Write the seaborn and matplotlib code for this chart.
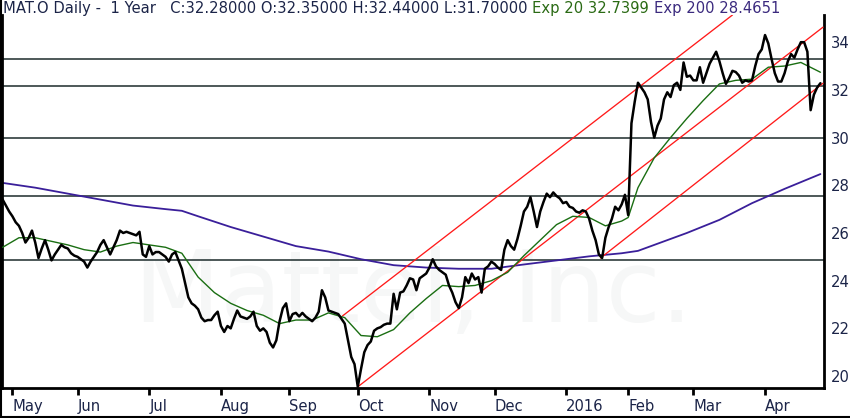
import numpy as np
import pandas as pd
import matplotlib
matplotlib.use("Agg")
import matplotlib.pyplot as plt
from matplotlib.lines import Line2D
import seaborn as sns

# ---------------- data ----------------
holidays = ["2015-05-25", "2015-07-03", "2015-09-07", "2015-11-26", "2015-12-25",
            "2016-01-01", "2016-01-18", "2016-02-15", "2016-03-25"]
start_date = "2015-04-28"
end_date = "2016-04-26"

close = [
    27.4, 27.15, 26.9, 26.7, 26.45, 26.3, 26.0, 25.6, 25.8, 26.1,
    25.6, 24.95, 25.35, 25.7, 25.3, 24.85, 25.1, 25.3, 25.5, 25.4,
    25.35, 25.15, 25.05, 25.0, 24.9, 24.8, 24.55, 24.8, 25.0, 25.2,
    25.5, 25.7, 25.4, 25.1, 25.4, 25.7, 26.1, 26.0, 26.05, 26.0,
    25.95, 25.9, 26.05, 25.1, 25.0, 25.45, 25.1, 25.2, 25.2, 25.1,
    25.0, 24.8, 25.1, 25.2, 24.85, 24.5, 23.9, 23.3, 23.05, 22.95,
    22.8, 22.45, 22.3, 22.35, 22.35, 22.55, 22.7, 22.1, 21.85, 22.1,
    22.0, 22.4, 22.75, 22.5, 22.45, 22.4, 22.5, 22.7, 22.1, 21.9,
    22.0, 21.85, 21.4, 21.2, 21.5, 22.3, 22.85, 23.05, 22.3, 22.6,
    22.65, 22.5, 22.65, 22.5, 22.4, 22.3, 22.45, 22.7, 23.6, 23.3,
    22.75, 22.7, 22.65, 22.6, 22.4, 22.2, 21.5, 20.8, 20.5, 19.55,
    20.3, 21.0, 21.3, 21.45, 21.9, 22.0, 22.05, 22.15, 22.2, 22.2,
    23.45, 22.8, 23.5, 23.55, 23.8, 24.1, 24.05, 23.6, 24.1, 24.2,
    24.3, 24.55, 24.9, 24.6, 24.45, 24.35, 24.25, 23.8, 23.5, 23.1,
    22.85, 23.3, 24.15, 23.9, 24.3, 24.05, 24.15, 23.5, 24.5, 24.6,
    24.8, 24.7, 24.55, 24.45, 25.3, 25.7, 25.45, 25.3, 25.75, 26.3,
    26.9, 27.1, 27.5, 26.9, 26.25, 26.9, 27.3, 27.65, 27.5, 27.7,
    27.55, 27.45, 27.25, 27.3, 27.1, 27.05, 26.9, 26.85, 26.95, 26.9,
    26.6, 26.1, 25.7, 25.1, 24.95, 25.8, 26.25, 26.6, 27.1, 26.95,
    27.2, 27.6, 26.75, 30.6, 31.5, 32.3, 32.1, 31.9, 31.6, 30.65,
    30.0, 30.5, 30.8, 31.6, 31.9, 31.7, 32.2, 32.3, 32.0, 33.15,
    32.55, 32.6, 32.4, 32.4, 32.95, 32.3, 32.7, 33.1, 33.35, 33.6,
    33.2, 32.7, 32.25, 32.5, 32.8, 32.75, 32.6, 32.3, 32.4, 32.35,
    32.4, 33.0, 33.5, 33.7, 34.3, 33.95, 33.3, 32.7, 32.35, 32.35,
    32.7, 33.2, 33.5, 33.35, 33.7, 34.0, 34.0, 33.6, 31.15, 31.8,
    32.1, 32.28,
]

ema20_idx = [0, 5, 10, 15, 20, 25, 30, 35, 40, 45, 50, 55, 60, 65, 70, 75, 80, 85,
             90, 95, 100, 105, 110, 115, 120, 125, 130, 135, 140, 145, 150, 155,
             160, 165, 170, 175, 180, 185, 190, 192, 195, 200, 205, 210, 215, 220,
             225, 230, 235, 240, 245, 251]
ema20_val = [25.4, 25.8, 25.8, 25.65, 25.5, 25.3, 25.2, 25.45, 25.6, 25.5, 25.4, 25.15,
             24.15, 23.5, 23.05, 22.75, 22.55, 22.2, 22.35, 22.35, 22.65, 22.45,
             21.7, 21.65, 21.95, 22.65, 23.25, 23.8, 23.75, 23.8, 24.0, 24.35,
             25.05, 25.7, 26.35, 26.7, 26.65, 26.3, 26.5, 26.65, 27.9, 29.15,
             30.0, 30.8, 31.55, 32.25, 32.4, 32.45, 32.95, 33.0, 33.15, 32.74]

ema200_idx = [0, 10, 20, 30, 40, 50, 55, 60, 70, 80, 90, 100, 110, 120, 130, 140, 150,
              160, 170, 180, 190, 195, 200, 210, 220, 230, 240, 251]
ema200_val = [28.1, 27.9, 27.65, 27.4, 27.15, 27.0, 26.93, 26.7, 26.25, 25.85, 25.45,
              25.22, 24.9, 24.65, 24.55, 24.5, 24.5, 24.68, 24.85, 25.02, 25.15, 25.25,
              25.5, 26.0, 26.55, 27.25, 27.85, 28.47]

h_levels = [33.3, 32.15, 30.0, 27.55, 24.85]

# channel lines: (start index, start value, end index, end value)
chan_upper = (104.3, 22.52, 224.0, 35.14)
chan_mid = (109.0, 19.55, 251.8, 34.63)
chan_low = (183.5, 24.95, 251.8, 32.28)

y_ticks = [20, 22, 24, 26, 28, 30, 32, 34]

title_main = "MAT.O Daily -  1 Year   C:32.28000 O:32.35000 H:32.44000 L:31.70000 "
title_e20 = "Exp 20 32.7399 "
title_e200 = "Exp 200 28.4651"
watermark = "Mattel, Inc."

# ---------------- build ----------------
dates = pd.bdate_range(start_date, end_date, freq="C", holidays=holidays)
n = min(len(dates), len(close))
dates = dates[:n]
idx = np.arange(n)
df = pd.DataFrame({"i": idx, "close": close[:n]})

# first trading day of each month (skip the partial first month)
month_pos, month_lab = [], []
prev = (dates[0].year, dates[0].month)
for k, d in enumerate(dates):
    key = (d.year, d.month)
    if key != prev:
        month_pos.append(k)
        month_lab.append(str(d.year) if d.month == 1 else d.strftime("%b"))
        prev = key

sns.set_theme(style="white")
plt.rcParams["font.family"] = ["DejaVu Sans"]

NAVY = "#1b2448"
FS = 10.6
fig = plt.figure(figsize=(8.5, 4.18), dpi=100)
fig.patch.set_facecolor("white")
ax = fig.add_axes([2 / 850, 30 / 418, 822 / 850, 373 / 418])
ax.set_facecolor("white")

ax.text(0.5, 0.25, watermark, transform=ax.transAxes, ha="center", va="center",
        fontsize=72, color="#f6f7f7", zorder=0)

for lv in h_levels:
    ax.axhline(lv, color="#1c2b2b", lw=1.1, zorder=1)

sns.lineplot(x=ema200_idx, y=ema200_val, ax=ax, color="#3a1f9a", lw=1.3, zorder=2)
for s_i, s_v, e_i, e_v in (chan_upper, chan_mid, chan_low):
    sns.lineplot(x=[s_i, e_i], y=[s_v, e_v], ax=ax, color="#ff1a1a", lw=0.95, zorder=3)
sns.lineplot(x=ema20_idx, y=ema20_val, ax=ax, color="#1a6e12", lw=1.0, zorder=4)
sns.lineplot(data=df, x="i", y="close", ax=ax, color="black", lw=1.8, zorder=5)

ax.set_xlim(-0.2, 252.1)
ax.set_ylim(19.5, 35.14)
ax.set_xlabel("")
ax.set_ylabel("")

ax.spines["top"].set_visible(False)
for s in ("left", "bottom", "right"):
    ax.spines[s].set_color("black")
    ax.spines[s].set_linewidth(2)

ax.yaxis.tick_right()
ax.set_yticks(y_ticks)
ax.set_yticklabels([str(v) for v in y_ticks])
ax.tick_params(axis="y", which="both", length=0, pad=5, labelsize=FS, labelcolor=NAVY)

ax.set_xticks(month_pos)
ax.set_xticklabels(month_lab, ha="left")
ax.tick_params(axis="x", which="both", direction="out", length=5, width=2,
               color="black", pad=3, labelsize=FS, labelcolor=NAVY, bottom=True)

# figure border on left and bottom
fig.add_artist(Line2D([0.001, 0.001], [0, 1], transform=fig.transFigure, color="black", lw=1.5))
fig.add_artist(Line2D([0, 1], [0.003, 0.003], transform=fig.transFigure, color="black", lw=1.5))

# multi-coloured title
fig.canvas.draw()
renderer = fig.canvas.get_renderer()
x0 = 3 / 850
yb = 1 - 13 / 418
for txt, col in ((title_main, NAVY), (title_e20, "#2a6a14"), (title_e200, "#3b2a7e")):
    t = fig.text(x0, yb, txt, color=col, fontsize=FS, va="baseline", ha="left")
    bb = t.get_window_extent(renderer=renderer)
    x0 = bb.x1 / fig.bbox.width

fig.savefig("out.png", dpi=100, facecolor="white")
